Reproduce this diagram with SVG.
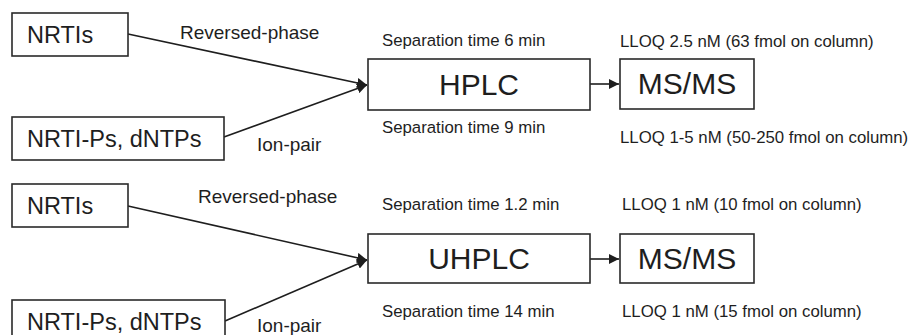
<svg xmlns="http://www.w3.org/2000/svg" width="911" height="335" viewBox="0 0 911 335">
<style>
text{font-family:"Liberation Sans",Arial,sans-serif;fill:#1e1e1e}
.box{fill:#fff;stroke:#2a2a2a;stroke-width:1.6}
.src{font-size:23.5px}
.big{font-size:30px;text-anchor:middle}
.lab{font-size:19px}
.note{font-size:16.8px}
.con{stroke:#1e1e1e;stroke-width:1.6;fill:none}
</style>
<defs>
<marker id="ah" viewBox="0 0 10 10" refX="10" refY="5" markerWidth="10" markerHeight="10" markerUnits="userSpaceOnUse" orient="auto">
<path d="M0,0 L10,5 L0,10 z" fill="#1e1e1e"/>
</marker>
</defs>
<rect width="911" height="335" fill="#fff"/>

<g id="connectors">
<line class="con" x1="128" y1="34" x2="367" y2="85" marker-end="url(#ah)"/>
<line class="con" x1="224" y1="137" x2="367" y2="85" marker-end="url(#ah)"/>
<line class="con" x1="590" y1="84" x2="619" y2="84" marker-end="url(#ah)"/>
<line class="con" x1="128" y1="206" x2="367" y2="260" marker-end="url(#ah)"/>
<line class="con" x1="225" y1="321" x2="367" y2="260" marker-end="url(#ah)"/>
<line class="con" x1="590" y1="259" x2="619" y2="259" marker-end="url(#ah)"/>
</g>

<g id="labels-top">
<text class="lab" x="180" y="39">Reversed-phase</text>
<text class="lab" x="257" y="151">Ion-pair</text>
<text class="note" x="382" y="46">Separation time 6 min</text>
<text class="note" x="382" y="133">Separation time 9 min</text>
<text class="note" x="620" y="47">LLOQ 2.5 nM (63 fmol on column)</text>
<text class="note" x="620" y="143">LLOQ 1-5 nM (50-250 fmol on column)</text>
</g>

<g id="nrtis-1"><rect class="box" x="12" y="13" width="116" height="43"/><text class="src" x="27" y="43">NRTIs</text></g>
<g id="nrtips-1"><rect class="box" x="12" y="117" width="212" height="43"/><text class="src" x="27" y="147">NRTI-Ps, dNTPs</text></g>
<g id="hplc"><rect class="box" x="368" y="59" width="222" height="51"/><text class="big" x="479" y="95">HPLC</text></g>
<g id="msms-1"><rect class="box" x="620" y="59" width="134" height="50"/><text class="big" x="687" y="94">MS/MS</text></g>

<g id="labels-bottom">
<text class="lab" x="198" y="203">Reversed-phase</text>
<text class="lab" x="257" y="332">Ion-pair</text>
<text class="note" x="382" y="210">Separation time 1.2 min</text>
<text class="note" x="382" y="317">Separation time 14 min</text>
<text class="note" x="622" y="210">LLOQ 1 nM (10 fmol on column)</text>
<text class="note" x="622" y="317">LLOQ 1 nM (15 fmol on column)</text>
</g>

<g id="nrtis-2"><rect class="box" x="12" y="184" width="116" height="43"/><text class="src" x="27" y="214">NRTIs</text></g>
<g id="nrtips-2"><rect class="box" x="12" y="300" width="213" height="43"/><text class="src" x="27" y="330">NRTI-Ps, dNTPs</text></g>
<g id="uhplc"><rect class="box" x="368" y="234" width="222" height="49"/><text class="big" x="479" y="269">UHPLC</text></g>
<g id="msms-2"><rect class="box" x="620" y="234" width="134" height="49"/><text class="big" x="687" y="269">MS/MS</text></g>
</svg>
